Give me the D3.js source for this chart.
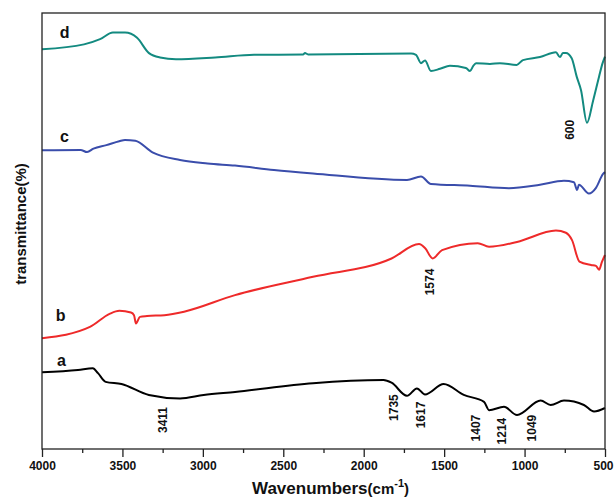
<!DOCTYPE html>
<html><head><meta charset="utf-8">
<script src="https://cdn.jsdelivr.net/npm/d3@7"></script>
<style>body{margin:0;background:#fff;} svg{display:block;} text{font-family:"Liberation Sans",Arial,sans-serif;}</style>
</head><body><div id="chart"></div>
<script>
const seriesNames = ["a","b","c","d"];
const seriesColors = ["#000000","#ee2a2a","#3a4dab","#138a80"];
const wnA = [4000,3776,3684,3652,3604,3506,3336,3142,2995,2800,2315,1877,1827,1731,1669,1619,1503,1378,1252,1221,1128,1047,900,838,755,631,568,500];
const tA  = [17.6,18.1,18.5,17.4,15.4,14.9,12.4,11.6,12.4,13.1,15.1,15.8,15.2,12.2,13.9,12.5,14.9,12.4,10.8,8.9,9.7,7.8,11.1,10.1,11.1,10.1,8.6,9.4];
const wnB = [4000,3702,3580,3519,3447,3428,3416,3391,3347,3239,3117,2800,2315,1827,1656,1619,1571,1513,1291,1221,1047,805,743,705,659,587,556,537,519,500];
const tB  = [25.4,28.0,31.0,31.7,31.3,30.7,28.8,30.3,30.5,30.7,31.5,35.3,39.5,43.7,47.0,46.1,43.7,45.6,47.2,46.4,47.5,50.1,49.6,47.9,43.0,42.2,42.0,41.1,42.9,44.5];
const wnC = [4000,3760,3720,3680,3600,3520,3484,3420,3310,3142,2971,2800,2558,2315,1731,1644,1582,1339,1097,904,755,693,674,662,600,556,512,500];
const tC  = [68.5,68.6,68.1,68.9,69.7,70.6,70.9,70.7,68.0,66.3,65.5,65.0,64.0,63.2,61.7,62.5,60.8,60.4,59.8,60.6,61.5,61.2,59.4,60.6,58.6,59.9,63.1,63.5];
const wnD = [4000,3739,3639,3559,3484,3409,3335,3266,3167,2924,2682,2377,2365,2346,1706,1675,1644,1619,1582,1526,1464,1365,1339,1320,1302,1215,1153,1049,1010,904,805,780,762,743,707,676,649,612,574,537,515,500];
const tD  = [91.7,92.8,94.0,95.5,95.5,94.3,90.8,89.8,89.4,89.8,90.4,90.5,90.8,90.5,90.7,90.4,88.5,89.1,86.7,87.2,87.9,87.4,86.7,87.8,88.5,88.3,88.5,88.1,89.2,89.9,91.0,89.9,90.8,90.8,89.6,85.4,82.3,74.8,79.9,85.4,88.5,90.0];
const xTicks = [4000,3500,3000,2500,2000,1500,1000,500];
const peakLabels = ["600","1574","3411","1735","1617","1407","1214","1049"];
const peakWn = [718,1591,3251,1816,1646,1304,1142,954];
const peakT  = [73.2,38.3,6.65,9.5,7.8,4.8,4.1,4.8];
const letterWn = [3879,3884,3860,3860];
const letterT  = [20.4,30.7,71.6,95.6];

const W=614,H=498, L=42,R=605,T=13,B=449;
const svg=d3.select("#chart").append("svg").attr("width",W).attr("height",H);
const x=d3.scaleLinear().domain([4000,500]).range([L,R]);
const y=d3.scaleLinear().domain([0,100]).range([B,T]);

const data=[[wnA,tA],[wnB,tB],[wnC,tC],[wnD,tD]];
const line=d3.line().x(d=>x(d[0])).y(d=>y(d[1])).curve(d3.curveMonotoneX);
data.forEach((s,i)=>{
  const pts=s[0].map((w,j)=>[w,s[1][j]]);
  svg.append("path").datum(pts).attr("d",line).attr("fill","none")
    .attr("stroke",seriesColors[i]).attr("stroke-width",2).attr("stroke-linejoin","round");
});

// frame
svg.append("rect").attr("x",L).attr("y",T).attr("width",R-L).attr("height",B-T)
  .attr("fill","none").attr("stroke","#222").attr("stroke-width",1.3);

// x axis
const ax=svg.append("g").attr("transform",`translate(0,${B})`)
  .call(d3.axisBottom(x).tickValues(xTicks).tickSize(8).tickSizeOuter(0).tickPadding(4).tickFormat(d3.format("d")));
ax.select(".domain").remove();
ax.selectAll("line").attr("stroke","#222").attr("stroke-width",1.3);
ax.selectAll("text").attr("font-size",12).attr("font-weight","bold").attr("fill","#111");
ax.selectAll(".tick").filter(d=>d===500).select("text").attr("text-anchor","end").attr("x",8);
const minor=d3.range(3750,500,-500);
svg.append("g").attr("transform",`translate(0,${B})`)
  .call(d3.axisBottom(x).tickValues(minor).tickSize(4).tickFormat(""))
  .call(g=>{g.select(".domain").remove();g.selectAll("line").attr("stroke","#222").attr("stroke-width",1.3);});

// axis titles
const xt=svg.append("text").attr("x",(L+R)/2+7).attr("y",494).attr("text-anchor","middle")
  .attr("font-weight","bold").attr("fill","#111");
xt.append("tspan").attr("font-size",17).text("Wavenumbers");
xt.append("tspan").attr("font-size",15).text("(cm");
xt.append("tspan").attr("font-size",11).attr("dy",-7).text("-1");
xt.append("tspan").attr("font-size",15).attr("dy",7).text(")");

svg.append("text").attr("transform","translate(26,224) rotate(-90)").attr("text-anchor","middle")
  .attr("font-size",15).attr("font-weight","bold").attr("fill","#111").text("transmittance(%)");

// series letters
seriesNames.forEach((n,i)=>{
  svg.append("text").attr("x",x(letterWn[i])).attr("y",y(letterT[i])).attr("dy","0.35em")
    .attr("text-anchor","middle").attr("font-size",16).attr("font-weight","bold").attr("fill","#111").text(n);
});

// peak labels
peakLabels.forEach((p,i)=>{
  svg.append("text").attr("transform",`translate(${x(peakWn[i])},${y(peakT[i])}) rotate(-90)`)
    .attr("text-anchor","middle").attr("dy","0.35em").attr("font-size",12).attr("font-weight","bold")
    .attr("fill","#111").text(p);
});
</script></body></html>
